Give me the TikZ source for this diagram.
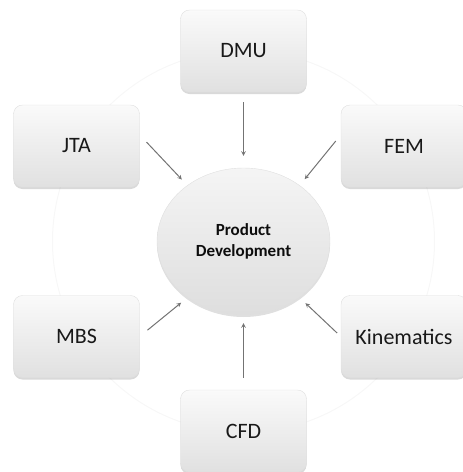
\documentclass[tikz,border=0pt]{standalone}
\usepackage{fontspec}
\setmainfont{Carlito}
\usetikzlibrary{shadows,shapes.geometric}
\begin{document}
\begin{tikzpicture}[x=1pt,y=-1pt,>=stealth,
	box/.style={rounded corners=9pt,minimum width=126pt,minimum height=82pt,top color=gray!4,bottom color=gray!24,draw=gray!25,drop shadow={shadow xshift=0pt,shadow yshift=-2pt,opacity=0.3},text=black!90,font=\fontsize{22}{24}\selectfont},
	hub/.style={ellipse,minimum width=173pt,minimum height=147pt,inner sep=0pt,top color=gray!8,bottom color=gray!26,draw=gray!25,drop shadow={shadow xshift=0pt,shadow yshift=-2pt,opacity=0.25},align=center,text=black!95,font=\bfseries\fontsize{17}{21}\selectfont},
	link/.style={->,draw=black!55,line width=1pt}]
			\useasboundingbox (0,0) rectangle (463,472);
			\draw[gray!6,line width=1pt] (243.5,241.5) circle[radius=191pt];
			\node[hub] (pd) at (243.5,241.5) {Product\\Development};
			\node[box] (dmu) at (243.5,51) {DMU};
			\node[box] (jta) at (76.5,146) {JTA};
			\node[box] (fem) at (404,146) {FEM};
			\node[box] (mbs) at (76.5,336.5) {MBS};
			\node[box] (kin) at (404,336.5) {Kinematics};
			\node[box] (cfd) at (243.5,431) {CFD};
			\draw[link,shorten <=10pt,shorten >=12pt] (dmu.south)--(pd.north);
			\draw[link,shorten <=10pt,shorten >=8pt] (jta.10)--(pd.135);
			\draw[link,shorten <=8pt,shorten >=8pt] (fem.170)--(pd.45);
			\draw[link,shorten <=10pt,shorten >=8pt] (mbs.east)--(pd.-135);
			\draw[link,shorten <=5pt,shorten >=8pt] (kin.west)--(pd.-45);
			\draw[link,shorten <=12pt,shorten >=8pt] (cfd.north)--(pd.south);
		\end{tikzpicture}
\end{document}
